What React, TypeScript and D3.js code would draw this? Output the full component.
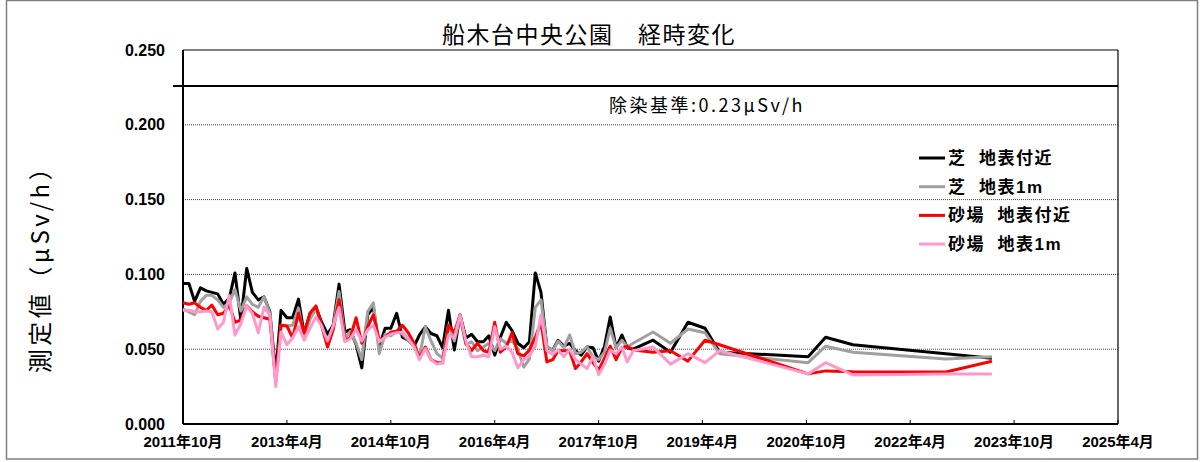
import * as d3 from 'd3';

// 測定日：2011年10月〜2018年4月は毎月、その後は間隔があく
const monthlyDates = d3.timeMonth.range(new Date(2011, 9, 1), new Date(2018, 4, 1));
const laterDates = [
  '2018-07-15', '2018-10-15', '2019-01-15', '2019-04-15', '2019-07-01',
  '2020-10-10', '2021-01-10', '2021-06-03', '2022-10-06', '2023-06-06',
];

// 芝 地表付近
const shibaGround = [
  0.094, 0.094, 0.082, 0.091, 0.089, 0.088, 0.087, 0.080, 0.084, 0.101,
  0.0695, 0.104, 0.088, 0.083, 0.085, 0.075, 0.034, 0.076, 0.071, 0.071,
  0.0835, 0.060, 0.074, 0.078, 0.068, 0.060, 0.066, 0.0935, 0.0615, 0.063,
  0.053, 0.0375, 0.073, 0.078, 0.0515, 0.064, 0.064, 0.074, 0.058, 0.056,
  0.052, 0.0595, 0.065, 0.0605, 0.059, 0.051, 0.076, 0.0495, 0.073, 0.0575,
  0.060, 0.055, 0.055, 0.059, 0.046, 0.058, 0.068, 0.0625, 0.054, 0.051,
  0.055, 0.101, 0.088, 0.051, 0.0495, 0.056, 0.052, 0.054, 0.049, 0.046,
  0.0515, 0.051, 0.042, 0.052, 0.0715, 0.051, 0.0595, 0.051, 0.050,
  0.056, 0.048, 0.068, 0.064, 0.048, 0.045, 0.058, 0.053, 0.047, 0.044,
];
// 芝 地表1m
const shiba1m = [
  0.077, 0.075, 0.073, 0.082, 0.086, 0.086, 0.083, 0.078, 0.081, 0.090,
  0.0755, 0.085, 0.080, 0.078, 0.085, 0.074, 0.028, 0.066, 0.0655, 0.066,
  0.0775, 0.058, 0.070, 0.077, 0.066, 0.052, 0.065, 0.0885, 0.057, 0.062,
  0.054, 0.043, 0.075, 0.081, 0.047, 0.060, 0.059, 0.062, 0.060, 0.056,
  0.052, 0.045, 0.065, 0.0555, 0.047, 0.044, 0.066, 0.0555, 0.071, 0.053,
  0.055, 0.049, 0.0515, 0.054, 0.049, 0.057, 0.054, 0.056, 0.050, 0.038,
  0.0435, 0.078, 0.083, 0.052, 0.049, 0.0555, 0.051, 0.0595, 0.047, 0.048,
  0.0515, 0.045, 0.043, 0.048, 0.064, 0.051, 0.056, 0.0515, 0.054,
  0.0615, 0.054, 0.0635, 0.061, 0.047, 0.041, 0.052, 0.048, 0.0435, 0.045,
];
// 砂場 地表付近
const sunaGround = [
  0.081, 0.080, 0.081, 0.078, 0.076, 0.0795, 0.073, 0.074, 0.0795, 0.068,
  0.0695, 0.079, 0.075, 0.072, 0.071, 0.070, 0.029, 0.066, 0.0655, 0.0575,
  0.074, 0.061, 0.074, 0.079, 0.066, 0.0515, 0.063, 0.083, 0.056, 0.0575,
  0.071, 0.054, 0.065, 0.073, 0.056, 0.058, 0.0615, 0.062, 0.066, 0.061,
  0.054, 0.044, 0.0515, 0.043, 0.041, 0.041, 0.066, 0.061, 0.073, 0.054,
  0.049, 0.054, 0.049, 0.048, 0.068, 0.048, 0.0515, 0.061, 0.047, 0.0455,
  0.0495, 0.058, 0.068, 0.0415, 0.043, 0.049, 0.049, 0.049, 0.037, 0.0415,
  0.047, 0.041, 0.036, 0.044, 0.052, 0.043, 0.051, 0.052, 0.0495,
  0.048, 0.049, 0.042, 0.056, 0.053, 0.0335, 0.0355, 0.035, 0.0348, 0.042,
];
// 砂場 地表1m
const suna1m = [
  0.076, 0.076, 0.075, 0.075, 0.0755, 0.075, 0.0635, 0.068, 0.086, 0.0595,
  0.067, 0.079, 0.074, 0.061, 0.078, 0.073, 0.025, 0.0615, 0.053, 0.0575,
  0.065, 0.056, 0.064, 0.0715, 0.0655, 0.0555, 0.0655, 0.078, 0.055, 0.057,
  0.063, 0.0555, 0.063, 0.066, 0.055, 0.058, 0.060, 0.061, 0.0615, 0.057,
  0.0515, 0.043, 0.0505, 0.043, 0.040, 0.041, 0.0595, 0.0575, 0.073, 0.0555,
  0.045, 0.045, 0.046, 0.045, 0.065, 0.050, 0.052, 0.048, 0.0375, 0.043,
  0.0455, 0.052, 0.073, 0.049, 0.0465, 0.0495, 0.045, 0.050, 0.043, 0.040,
  0.037, 0.045, 0.033, 0.040, 0.0495, 0.047, 0.0515, 0.0415, 0.049,
  0.0515, 0.040, 0.047, 0.041, 0.049, 0.0335, 0.041, 0.0328, 0.0335, 0.0335,
];

const seriesNames = ['芝  地表付近', '芝  地表1m', '砂場  地表付近', '砂場  地表1m'];
const seriesColors = ['#000000', '#a0a0a0', '#ff0000', '#ff99cc'];
const seriesValues = [shibaGround, shiba1m, sunaGround, suna1m];

const xTickMonths = ['2011-10', '2013-04', '2014-10', '2016-04', '2017-10', '2019-04', '2020-10', '2022-04', '2023-10', '2025-04'];
const yTicks = [0, 0.05, 0.1, 0.15, 0.2, 0.25];
const standardValue = 0.226; // 除染基準線の位置
const standardLabel = '除染基準:0.23μSv/h';
const title = '船木台中央公園　経時変化';
const yTitle = '測定値（μSv/h）';

const W = 1200;
const H = 462;
const left = 183, right = 1118, top = 50, bottom = 424;
const numFont = "'Liberation Sans', Arial, 'Noto Sans CJK JP', sans-serif";
const jpFont = "'Noto Sans CJK JP', sans-serif";

export default function App() {
  const parseDay = d3.timeParse('%Y-%m-%d');
  const parseMonth = d3.timeParse('%Y-%m');
  const dates = [...monthlyDates, ...laterDates.map((d) => parseDay(d)!)];

  const x = d3.scaleTime()
    .domain([new Date(2011, 9, 1), new Date(2025, 3, 1)])
    .range([left, right]);
  const y = d3.scaleLinear().domain([0, 0.25]).range([bottom, top]);

  const line = d3.line<[Date, number]>()
    .x((d) => x(d[0]))
    .y((d) => y(d[1]));

  const fmt = d3.format('.3f');

  return (
    <svg width={W} height={H} style={{ position: 'absolute', left: 0, top: 0, background: '#fff' }}>
      <rect x={6.5} y={0.5} width={1191} height={458.5} fill="#fff" stroke="#808080" strokeWidth={1.5} />

      <text x={589} y={43} textAnchor="middle" fontFamily={jpFont} fontSize={23} letterSpacing={1.5}>{title}</text>

      {yTicks.filter((t) => t > 0 && t < 0.25).map((t) => (
        <line key={t} x1={left} x2={right} y1={y(t)} y2={y(t)} stroke="#444" strokeWidth={1} strokeDasharray="1,1" />
      ))}

      <line x1={left} x2={right} y1={top} y2={top} stroke="#000" strokeWidth={1.2} />
      <line x1={right} x2={right} y1={top} y2={bottom} stroke="#000" strokeWidth={1.2} />
      <line x1={left} x2={left} y1={top} y2={bottom} stroke="#000" strokeWidth={2} />
      <line x1={left} x2={right} y1={bottom} y2={bottom} stroke="#000" strokeWidth={2} />

      {xTickMonths.map((m) => {
        const d = parseMonth(m)!;
        const tx = x(d);
        return (
          <g key={m}>
            <line x1={tx} x2={tx} y1={bottom} y2={bottom - 4} stroke="#000" strokeWidth={1} />
            <text x={tx} y={447} textAnchor="middle" fontFamily={numFont} fontWeight="bold" fontSize={15}>
              {`${d.getFullYear()}年${d.getMonth() + 1}月`}
            </text>
          </g>
        );
      })}

      {yTicks.map((t) => (
        <text key={t} x={165} y={y(t)} dy="0.35em" textAnchor="end" fontFamily={numFont} fontWeight="bold" fontSize={16}>
          {fmt(t)}
        </text>
      ))}

      <text transform={`translate(49,263) rotate(-90)`} textAnchor="middle" fontFamily={jpFont} fontSize={24} letterSpacing={3.5}>
        {yTitle}
      </text>

      <line x1={173} x2={right} y1={y(standardValue)} y2={y(standardValue)} stroke="#000" strokeWidth={2} />
      <text x={707} y={112} textAnchor="middle" fontFamily={jpFont} fontSize={18} letterSpacing={2.5}>{standardLabel}</text>

      {seriesValues.map((vals, i) => (
        <path
          key={seriesNames[i]}
          d={line(vals.map((v, j) => [dates[j], v] as [Date, number])) ?? ''}
          fill="none"
          stroke={seriesColors[i]}
          strokeWidth={3}
          strokeLinejoin="round"
        />
      ))}

      {seriesNames.map((name, i) => {
        const ly = 158 + i * 28.7;
        return (
          <g key={name}>
            <line x1={919} x2={945} y1={ly} y2={ly} stroke={seriesColors[i]} strokeWidth={3} />
            <text x={948} y={ly} dy="0.35em" fontFamily={numFont} fontWeight="bold" fontSize={17} letterSpacing={1.5} style={{ whiteSpace: 'pre' }}>{name}</text>
          </g>
        );
      })}
    </svg>
  );
}
